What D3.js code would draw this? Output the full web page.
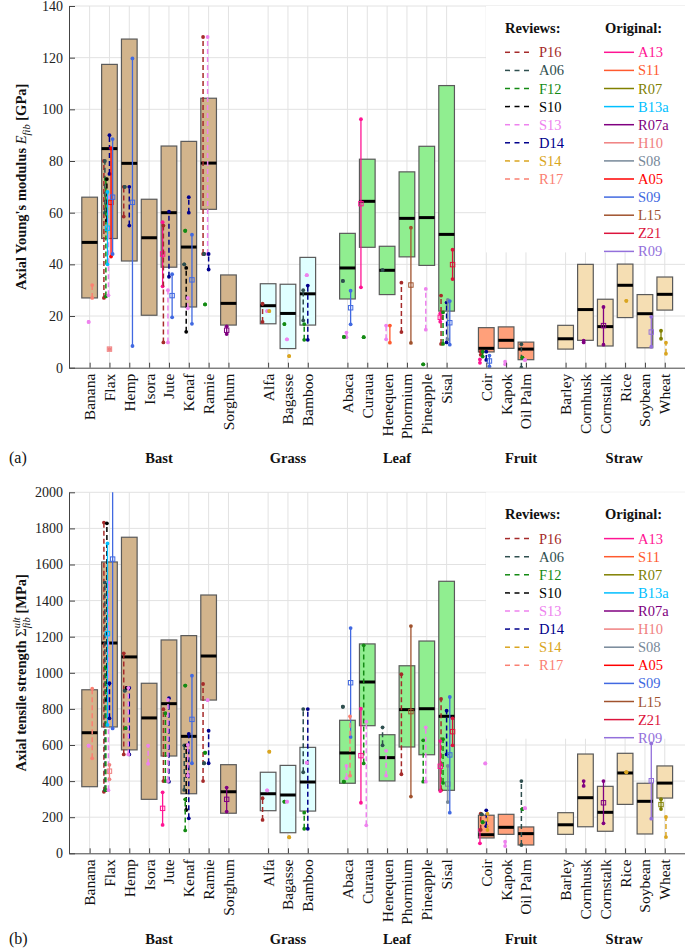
<!DOCTYPE html>
<html>
<head>
<meta charset="utf-8">
<script src="https://cdn.jsdelivr.net/npm/d3@7"></script>
<style>
  body { margin: 0; background: #fff; }
  svg text { font-family: "Liberation Serif", "DejaVu Serif", serif; }
</style>
</head>
<body>
<svg id="chart" width="685" height="950"></svg>
<script>
// ---- categories ----
const groupNames = ["Bast", "Grass", "Leaf", "Fruit", "Straw"];
const groupMembers = [
  ["Banana", "Flax", "Hemp", "Isora", "Jute", "Kenaf", "Ramie", "Sorghum"],
  ["Alfa", "Bagasse", "Bamboo"],
  ["Abaca", "Curaua", "Henequen", "Phormium", "Pineapple", "Sisal"],
  ["Coir", "Kapok", "Oil Palm"],
  ["Barley", "Cornhusk", "Cornstalk", "Rice", "Soybean", "Wheat"]
];
const groupColors = ["#d2b48c", "#e0ffff", "#90ee90", "#ffa07a", "#f5deb3"];

// ---- box values (min / median / max), same order as the flattened categories ----
const eMin = [27, 50, 41.3, 20.3, 38.9, 23.5, 61.3, 16.5, 17, 7.4, 16.5, 26.6, 46.6, 28.3, 42.9, 39.6, 21.9, 6.1, 7.5, 3.1, 7.2, 10.6, 8.4, 19.4, 7.7, 22.3];
const eMed = [48.5, 84.8, 79.1, 50.3, 60, 46.7, 79.2, 24.9, 24, 21, 28.6, 38.6, 64.4, 37.7, 57.8, 58.1, 51.6, 7.5, 10.6, 7.2, 11.2, 22.5, 15.9, 31.9, 20.9, 28.4];
const eMax = [66, 117.4, 127.2, 65.2, 85.8, 87.6, 104.3, 35.9, 32.5, 32.3, 42.7, 52, 80.7, 47, 75.8, 85.7, 109.2, 15.5, 15.8, 9.9, 16.4, 40, 26.5, 40.1, 28.3, 35.1];

const sMin = [369, 700, 573, 299, 539, 330, 849, 222, 236, 114, 234, 388, 707, 401, 589, 546, 349, 85, 105, 46, 105, 147, 122, 271, 107, 306];
const sMed = [668, 1165, 1088, 750, 829, 648, 1093, 341, 330, 323, 395, 556, 949, 530, 796, 801, 759, 103, 144, 109, 158, 308, 227, 445, 288, 389];
const sMax = [906, 1614, 1751, 942, 1182, 1206, 1431, 491, 449, 487, 587, 737, 1160, 657, 1039, 1176, 1507, 211, 216, 146, 225, 550, 371, 554, 388, 484];

// ---- sources ----
const reviewNames = ["P16", "A06", "F12", "S10", "S13", "D14", "S14", "R17"];
const reviewColors = ["#a52a2a", "#2f4f4f", "#138a13", "#000000", "#ee82ee", "#00008b", "#daa520", "#fa8072"];
const originalNames = ["A13", "S11", "R07", "B13a", "R07a", "H10", "S08", "A05", "S09", "L15", "Z21", "R09"];
const originalColors = ["#ff1493", "#ff5a2e", "#808000", "#00bfff", "#800080", "#f08080", "#778899", "#ff0000", "#4169e1", "#a0522d", "#dc143c", "#9370db"];
// horizontal nudge of each source inside its category slot (fraction of slot)
const sourceNudge = {P16: -0.28, A06: -0.23, F12: -0.18, S10: -0.13, S13: -0.05, D14: 0, S14: 0.06, R17: 0.13,
  A13: -0.32, S11: 0.14, R07: -0.19, B13a: -0.1, R07a: -0.09, H10: 0, S08: 0.06, A05: 0.08, S09: 0.16, L15: 0.2, Z21: 0.3, R09: 0.32};

// [category, source, low, high, mean]
const eRanges = [
  ["Banana", "R17", 27, 32], ["Banana", "S13", 17.7, 17.7],
  ["Flax", "P16", 27, 80], ["Flax", "A06", 60, 80], ["Flax", "F12", 27.6, 73], ["Flax", "S10", 57, 73],
  ["Flax", "S13", 28, 66], ["Flax", "D14", 75, 90], ["Flax", "B13a", 40, 68, 54], ["Flax", "A05", 43, 85, 64],
  ["Flax", "S09", 44, 88.5, 66], ["Flax", "H10", 7.2, 7.2, 7.2],
  ["Hemp", "P16", 58.5, 70], ["Hemp", "A06", 70, 70], ["Hemp", "D14", 55, 70], ["Hemp", "S09", 8.4, 119.7, 64],
  ["Jute", "A13", 31.5, 56.3, 44], ["Jute", "P16", 9.8, 55], ["Jute", "S13", 9.8, 30], ["Jute", "D14", 35.2, 60.4], ["Jute", "S09", 19.5, 36.2, 27.9],
  ["Kenaf", "A06", 40, 40], ["Kenaf", "F12", 53, 53], ["Kenaf", "S10", 13.9, 38.6], ["Kenaf", "S13", 23, 27],
  ["Kenaf", "D14", 60, 66], ["Kenaf", "S09", 17, 51.5, 34],
  ["Ramie", "P16", 44, 128], ["Ramie", "S13", 44, 128], ["Ramie", "D14", 38, 44], ["Ramie", "A06", 44, 44], ["Ramie", "F12", 24.5, 24.5],
  ["Sorghum", "R07a", 13, 16, 14.5],
  ["Alfa", "P16", 17.7, 24.8], ["Alfa", "S13", 21.9, 21.9], ["Alfa", "S14", 21.9, 21.9],
  ["Bagasse", "F12", 16.9, 16.9], ["Bagasse", "S13", 11, 11], ["Bagasse", "S14", 4.5, 4.5],
  ["Bamboo", "A06", 18.3, 30], ["Bamboo", "F12", 10.8, 16.9], ["Bamboo", "D14", 10.8, 31.8], ["Bamboo", "S13", 35.8, 35.8],
  ["Abaca", "A06", 33.6, 33.6], ["Abaca", "S09", 16.8, 29.8, 23.2], ["Abaca", "S13", 11.8, 13.6], ["Abaca", "F12", 11.9, 11.9],
  ["Curaua", "A13", 31.1, 96.2, 63.5], ["Curaua", "F12", 11.8, 11.8],
  ["Henequen", "A06", 37.8, 37.8], ["Henequen", "S13", 11, 16.3], ["Henequen", "S11", 9.7, 16.3],
  ["Phormium", "P16", 13.8, 32.9], ["Phormium", "L15", 9.6, 54.2, 32],
  ["Pineapple", "S13", 14.7, 30.5], ["Pineapple", "F12", 1.3, 1.3],
  ["Sisal", "P16", 9.2, 27.9], ["Sisal", "A13", 17.8, 21, 19.5], ["Sisal", "F12", 9.2, 21.4], ["Sisal", "D14", 9.8, 25.2],
  ["Sisal", "S08", 11, 26.2], ["Sisal", "S09", 8.9, 25.8, 17.4], ["Sisal", "Z21", 34.3, 45.7, 39.9],
  ["Coir", "A13", 1.9, 3.2], ["Coir", "P16", 5, 6.2], ["Coir", "F12", 4.3, 6.2], ["Coir", "D14", 3, 6.2], ["Coir", "S09", 0.5, 4.7, 2.6],
  ["Kapok", "S13", 1.3, 2.3],
  ["Oil Palm", "A06", 0, 9.1], ["Oil Palm", "F12", 3.9, 3.9], ["Oil Palm", "S13", 3, 3],
  ["Cornhusk", "R07a", 9.8, 10.5],
  ["Cornstalk", "R07a", 8.9, 23.5, 16.3],
  ["Rice", "S14", 25.9, 25.9],
  ["Soybean", "R09", 8.1, 19.7, 13.8],
  ["Wheat", "R07", 11.2, 14.3], ["Wheat", "S14", 5.4, 9.7]
];

const sRanges = [
  ["Banana", "R17", 526, 912], ["Banana", "S13", 596, 596],
  ["Flax", "P16", 341, 1832], ["Flax", "A06", 350, 1500], ["Flax", "F12", 350, 1030], ["Flax", "S10", 850, 1828],
  ["Flax", "S13", 350, 1500], ["Flax", "B13a", 711, 1717, 1217], ["Flax", "D14", 748, 942],
  ["Flax", "S09", 692, 2100, 1630], ["Flax", "H10", 410, 490, 455],
  ["Hemp", "P16", 548, 1108], ["Hemp", "A06", 901, 901], ["Hemp", "F12", 693, 693], ["Hemp", "S10", 917, 917],
  ["Hemp", "D14", 548, 917], ["Hemp", "S13", 548, 917],
  ["Isora", "S13", 496, 596],
  ["Jute", "P16", 400, 798], ["Jute", "F12", 400, 776], ["Jute", "D14", 397, 859], ["Jute", "S13", 400, 850], ["Jute", "A13", 157, 338, 249],
  ["Kenaf", "F12", 929, 929], ["Kenaf", "A06", 351, 598], ["Kenaf", "S10", 240, 598], ["Kenaf", "D14", 194, 661],
  ["Kenaf", "S13", 430, 600], ["Kenaf", "F12", 127, 299], ["Kenaf", "S09", 499, 984, 742],
  ["Ramie", "P16", 400, 938], ["Ramie", "S13", 849, 849], ["Ramie", "F12", 557, 557], ["Ramie", "A06", 499, 499], ["Ramie", "D14", 499, 679],
  ["Sorghum", "R07a", 231, 364, 299],
  ["Alfa", "P16", 185, 305], ["Alfa", "S13", 349, 349], ["Alfa", "S14", 563, 563],
  ["Bagasse", "F12", 286, 286], ["Bagasse", "S13", 286, 286], ["Bagasse", "S14", 89, 89],
  ["Bamboo", "A06", 449, 799], ["Bamboo", "D14", 136, 799], ["Bamboo", "F12", 136, 225], ["Bamboo", "S13", 502, 502],
  ["Abaca", "A06", 812, 812], ["Abaca", "S09", 644, 1248, 945], ["Abaca", "R17", 430, 759], ["Abaca", "S13", 416, 484], ["Abaca", "F12", 397, 397],
  ["Curaua", "F12", 498, 1152], ["Curaua", "A13", 280, 801, 541], ["Curaua", "S13", 155, 729],
  ["Henequen", "A06", 598, 698], ["Henequen", "S13", 430, 568],
  ["Phormium", "P16", 438, 992], ["Phormium", "L15", 314, 1259, 785],
  ["Pineapple", "F12", 397, 626], ["Pineapple", "S13", 397, 698],
  ["Sisal", "P16", 350, 855], ["Sisal", "F12", 390, 632], ["Sisal", "D14", 548, 790], ["Sisal", "S08", 284, 484, 384],
  ["Sisal", "S09", 225, 866, 545], ["Sisal", "A13", 345, 622, 482], ["Sisal", "Z21", 598, 748, 674],
  ["Coir", "A13", 55, 129], ["Coir", "P16", 130, 220], ["Coir", "A06", 216, 216], ["Coir", "F12", 172, 172],
  ["Coir", "D14", 150, 238], ["Coir", "S14", 129, 219], ["Coir", "S13", 498, 498],
  ["Kapok", "S13", 40, 64],
  ["Oil Palm", "A06", 46, 400], ["Oil Palm", "F12", 245, 245], ["Oil Palm", "S13", 250, 250],
  ["Cornhusk", "R07a", 373, 400],
  ["Cornstalk", "R07a", 166, 400, 280],
  ["Rice", "S14", 449, 449],
  ["Soybean", "R09", 192, 609, 402],
  ["Wheat", "R07", 245, 300, 270], ["Wheat", "S14", 90, 201]
];

const eTicks = d3.range(0, 141, 20);
const sTicks = d3.range(0, 2001, 200);

// ---- layout ----
const svg = d3.select("#chart");
const slotOf = {}, groupOfCat = {};
let slot = 0;
groupMembers.forEach((members, gi) => {
  members.forEach(c => { slotOf[c] = slot++; groupOfCat[c] = gi; });
  slot++;
});
const cats = groupMembers.flat();
const x = d3.scaleLinear().domain([-1.04, 30.02]).range([69, 685]);
const slotW = x(1) - x(0);
const boxW = slotW * 0.79;
// label position for each group (centre of members, fruit/straw labels sit a bit right)
const groupLabelShift = [0, 0, 0, 0.75, 0.45];

const srcColor = {}, isReview = {};
reviewNames.forEach((n, i) => { srcColor[n] = reviewColors[i]; isReview[n] = true; });
originalNames.forEach((n, i) => { srcColor[n] = originalColors[i]; isReview[n] = false; });

function drawPanel(p) {
  const g = svg.append("g");
  const y = d3.scaleLinear().domain([0, p.yMax]).range([p.bottom, p.top]);

  // grid
  g.append("g").selectAll("line").data(p.ticks.slice(1)).join("line")
    .attr("x1", 69).attr("x2", 685).attr("y1", d => y(d)).attr("y2", d => y(d))
    .attr("stroke", "#e2e2e2").attr("stroke-width", 1);
  g.append("g").selectAll("line").data(cats).join("line")
    .attr("x1", d => x(slotOf[d])).attr("x2", d => x(slotOf[d]))
    .attr("y1", p.top).attr("y2", p.bottom)
    .attr("stroke", "#e2e2e2").attr("stroke-width", 1);

  // legend background
  const rowH = 18.1;
  g.append("rect").attr("x", 486).attr("y", p.top).attr("width", 199)
    .attr("height", 46.3 + 11 * rowH + 1).attr("fill", "#fff");

  // boxes
  const bx = g.append("g").selectAll("g").data(cats).join("g");
  bx.append("rect")
    .attr("x", d => x(slotOf[d]) - boxW / 2).attr("width", boxW)
    .attr("y", (d, i) => y(p.max[i])).attr("height", (d, i) => y(p.min[i]) - y(p.max[i]))
    .attr("fill", d => groupColors[groupOfCat[d]])
    .attr("stroke", "#5a5a5a").attr("stroke-width", 1.2);
  bx.append("line")
    .attr("x1", d => x(slotOf[d]) - boxW / 2).attr("x2", d => x(slotOf[d]) + boxW / 2)
    .attr("y1", (d, i) => y(p.med[i])).attr("y2", (d, i) => y(p.med[i]))
    .attr("stroke", "#000").attr("stroke-width", 3);

  // source ranges
  const clipId = "clip" + p.key;
  svg.append("clipPath").attr("id", clipId).append("rect")
    .attr("x", 69).attr("y", p.top).attr("width", 616).attr("height", p.bottom - p.top);
  const rg = g.append("g").attr("clip-path", `url(#${clipId})`)
    .selectAll("g").data(p.ranges).join("g");
  const cx = d => x(slotOf[d[0]] + sourceNudge[d[1]]);
  rg.filter(d => d[2] !== d[3]).append("line")
    .attr("x1", cx).attr("x2", cx).attr("y1", d => y(d[2])).attr("y2", d => y(d[3]))
    .attr("stroke", d => srcColor[d[1]]).attr("stroke-width", d => isReview[d[1]] ? 1.5 : 1.3)
    .attr("stroke-dasharray", d => isReview[d[1]] ? "5,3" : null);
  rg.selectAll("circle").data(d => [[d, d[2]], [d, d[3]]]).join("circle")
    .attr("cx", e => cx(e[0])).attr("cy", e => y(e[1])).attr("r", 1.9)
    .attr("fill", e => srcColor[e[0][1]]);
  rg.filter(d => d[4] !== undefined).append("rect")
    .attr("x", d => cx(d) - 2.2).attr("y", d => y(d[4]) - 2.2)
    .attr("width", 4.4).attr("height", 4.4)
    .attr("fill", "none").attr("stroke", d => srcColor[d[1]]).attr("stroke-width", 1);

  // axes
  const ya = g.append("g").attr("transform", "translate(69,0)")
    .call(d3.axisLeft(y).tickValues(p.ticks).tickSizeInner(-6).tickSizeOuter(0).tickPadding(6).tickFormat(d3.format("d")));
  ya.select(".domain").attr("stroke", "#444");
  ya.selectAll(".tick line").attr("stroke", "#444");
  ya.selectAll(".tick text").attr("font-size", 14).attr("fill", "#222")
    .style("font-family", '"Liberation Serif", serif');

  const xa = g.append("g").attr("transform", `translate(0,${p.bottom})`)
    .call(d3.axisBottom(x).tickValues(cats.map(c => slotOf[c])).tickSizeInner(-5).tickSizeOuter(0).tickFormat(""));
  xa.select(".domain").attr("stroke", "#444");
  xa.selectAll(".tick line").attr("stroke", "#444");

  g.append("g").selectAll("text").data(cats).join("text")
    .attr("transform", d => `translate(${x(slotOf[d])},${p.bottom + 6}) rotate(-90)`)
    .attr("text-anchor", "end").attr("dy", "0.35em")
    .attr("font-size", 15.5).attr("fill", "#111").text(d => d);

  g.append("g").selectAll("text").data(groupNames).join("text")
    .attr("x", (d, i) => {
      const m = groupMembers[i];
      return x((slotOf[m[0]] + slotOf[m[m.length - 1]]) / 2 + groupLabelShift[i]);
    })
    .attr("y", p.bottom + p.labelGap).attr("text-anchor", "middle")
    .attr("font-size", 14.5).attr("font-weight", "bold").attr("fill", "#111").text(d => d);

  g.append("text").attr("x", 9).attr("y", p.bottom + p.labelGap)
    .attr("font-size", 16).attr("fill", "#111").text(p.letter);

  // y title
  const t = g.append("text")
    .attr("transform", `translate(26,${(p.top + p.bottom) / 2}) rotate(-90)`)
    .attr("text-anchor", "middle").attr("font-size", 14.5).attr("fill", "#111");
  p.title(t);

  // legend
  const lg = g.append("g");
  lg.append("text").attr("x", 505).attr("y", p.top + 22).attr("dy", "0.35em")
    .attr("font-size", 14.5).attr("font-weight", "bold").attr("fill", "#111").text("Reviews:");
  lg.append("text").attr("x", 605).attr("y", p.top + 22).attr("dy", "0.35em")
    .attr("font-size", 14.5).attr("font-weight", "bold").attr("fill", "#111").text("Original:");
  const rv = lg.append("g").selectAll("g").data(reviewNames).join("g")
    .attr("transform", (d, i) => `translate(0,${p.top + 46.3 + i * rowH})`);
  rv.append("line").attr("x1", 505).attr("x2", 533)
    .attr("stroke", d => srcColor[d]).attr("stroke-width", 1.5).attr("stroke-dasharray", "5,4.5");
  rv.append("text").attr("x", 539).attr("dy", "0.35em").attr("font-size", 14.5)
    .attr("fill", d => srcColor[d]).text(d => d);
  const og = lg.append("g").selectAll("g").data(originalNames).join("g")
    .attr("transform", (d, i) => `translate(0,${p.top + 46.3 + i * rowH})`);
  og.append("line").attr("x1", 604).attr("x2", 634)
    .attr("stroke", d => srcColor[d]).attr("stroke-width", 1.5);
  og.append("text").attr("x", 638).attr("dy", "0.35em").attr("font-size", 14.5)
    .attr("fill", d => srcColor[d]).text(d => d);
}

drawPanel({
  key: "a", top: 6, bottom: 367.7, yMax: 140, ticks: eTicks, labelGap: 95,
  min: eMin, med: eMed, max: eMax, ranges: eRanges, letter: "(a)",
  title: t => {
    t.append("tspan").attr("font-weight", "bold").text("Axial Young's modulus ");
    t.append("tspan").attr("font-style", "italic").text("E");
    t.append("tspan").attr("font-style", "italic").attr("font-size", 10.5).attr("dy", 4).text("fib");
    t.append("tspan").attr("font-weight", "bold").attr("dy", -4).text(" [GPa]");
  }
});

drawPanel({
  key: "b", top: 492.3, bottom: 853.3, yMax: 2000, ticks: sTicks, labelGap: 91,
  min: sMin, med: sMed, max: sMax, ranges: sRanges, letter: "(b)",
  title: t => {
    t.append("tspan").attr("font-weight", "bold").text("Axial tensile strength ");
    t.append("tspan").text("Σ");
    const sup = t.append("tspan").attr("font-style", "italic").attr("font-size", 10.5).attr("dy", -6).text("ult");
    const w = sup.node().getComputedTextLength();
    t.append("tspan").attr("font-style", "italic").attr("font-size", 10.5).attr("dx", -w).attr("dy", 10).text("fib");
    t.append("tspan").attr("font-weight", "bold").attr("dy", -4).text(" [MPa]");
  }
});
</script>
</body>
</html>
